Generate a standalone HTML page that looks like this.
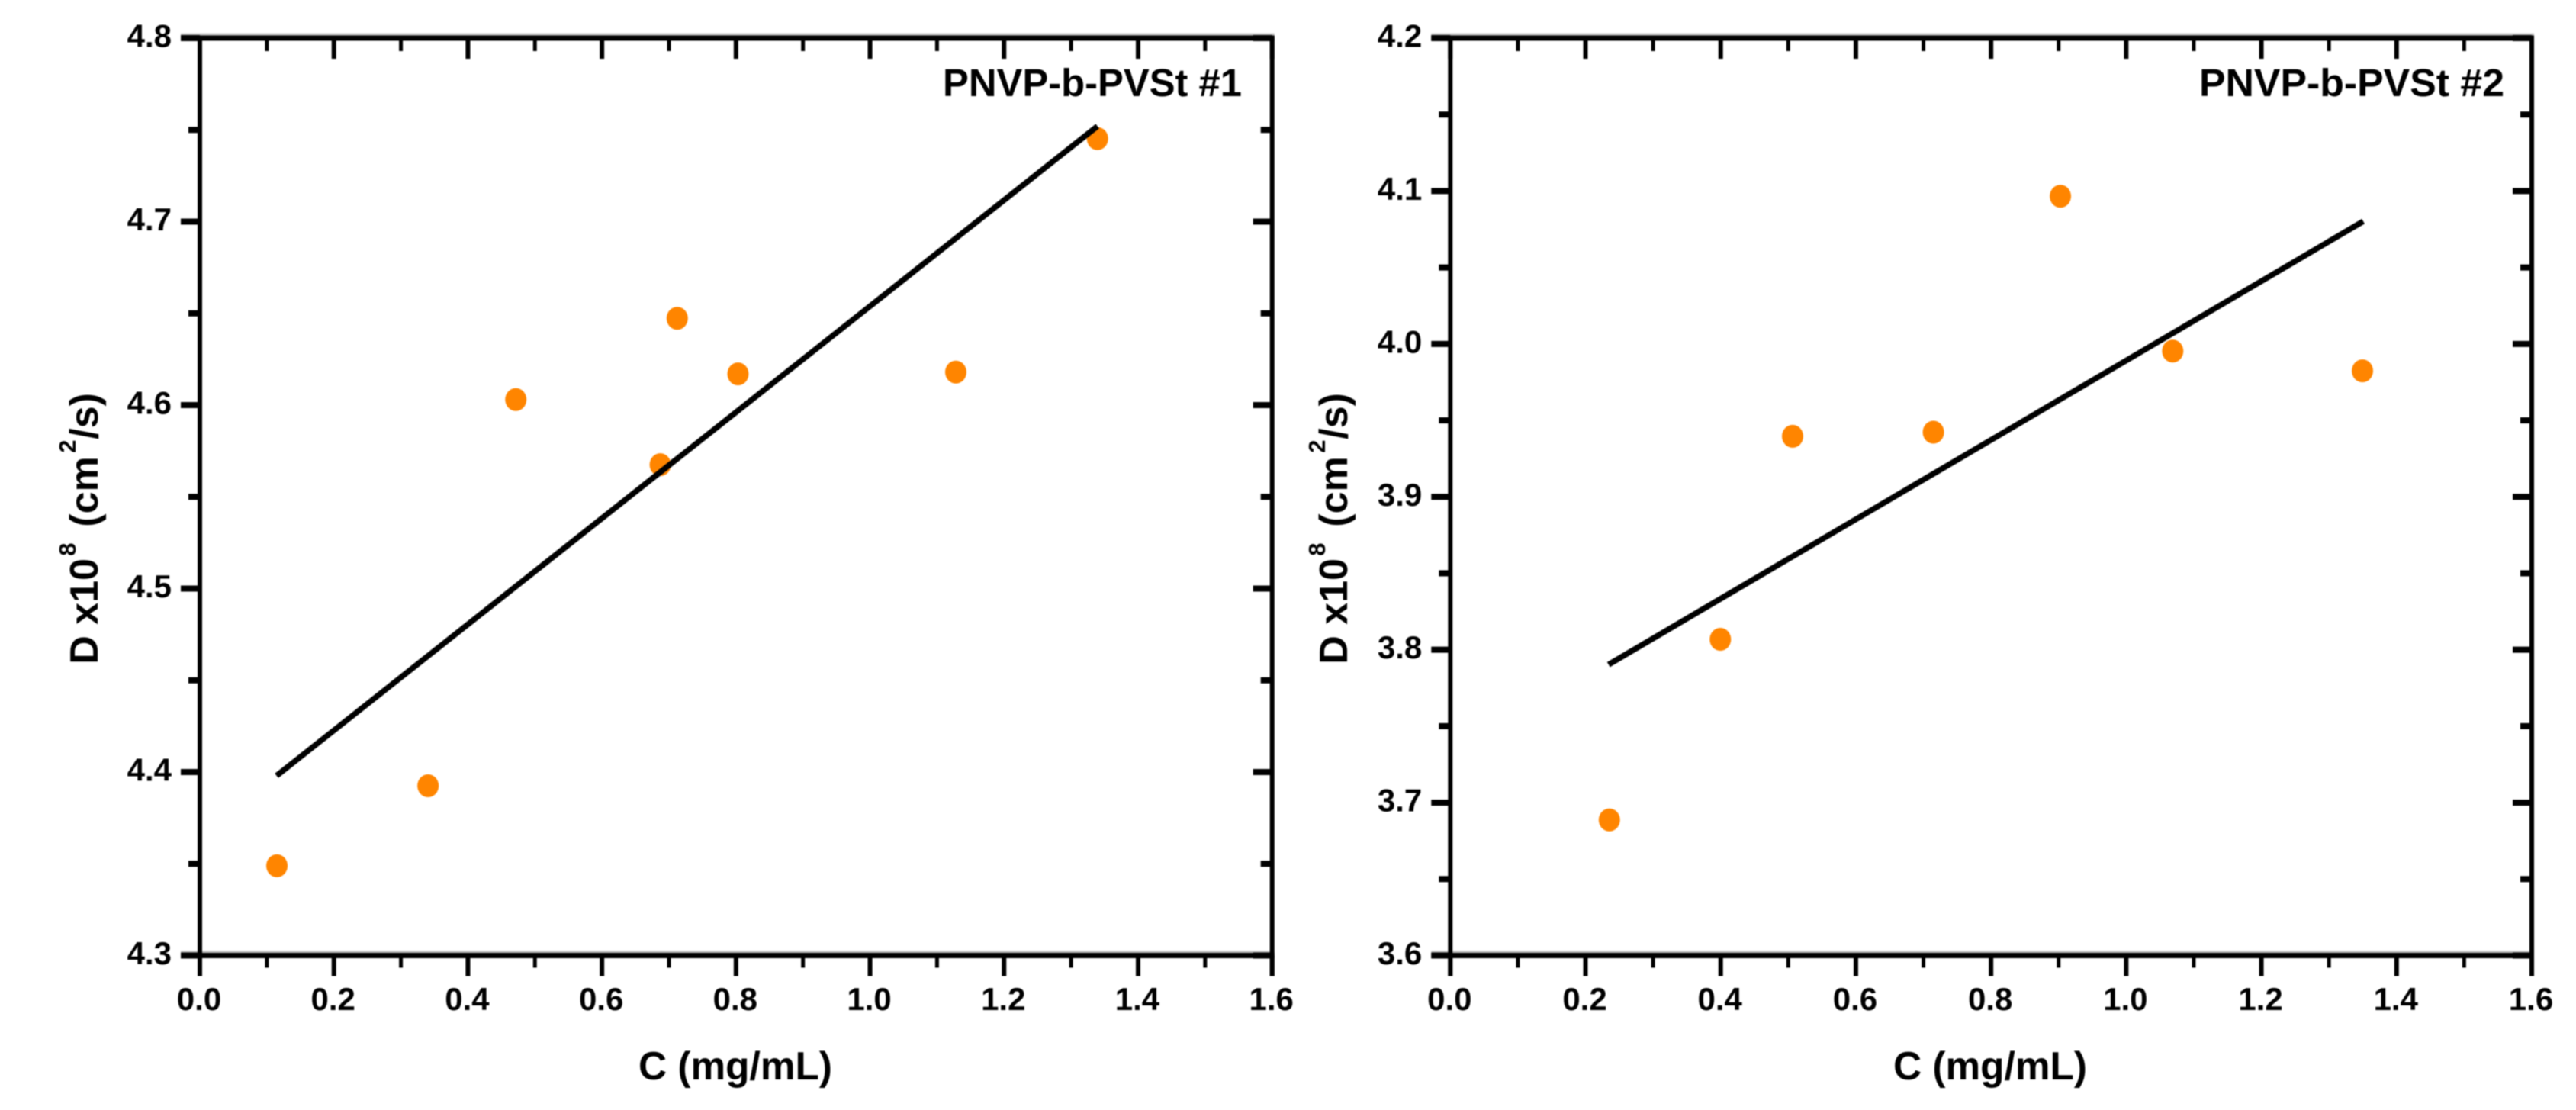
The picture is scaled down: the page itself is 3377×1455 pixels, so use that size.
<!DOCTYPE html>
<html lang="en">
<head>
<meta charset="utf-8">
<title>Diffusion coefficient vs concentration</title>
<style>
  html, body { margin: 0; padding: 0; background: #fff; }
  body { width: 3377px; height: 1455px; overflow: hidden; }
  svg { display: block; filter: blur(0.9px); }
  text { font-family: "Liberation Sans", Arial, sans-serif; font-weight: 700; fill: #000; }
  .tick-label { font-size: 42px; }
  .axis-title { font-size: 52px; }
  .panel-title { font-size: 51px; }
</style>
</head>
<body>
<svg id="figure" width="3377" height="1455" viewBox="0 0 3377 1455" xmlns="http://www.w3.org/2000/svg">
  <rect x="0" y="0" width="3377" height="1455" fill="#ffffff"/>

  <g id="panel-1"></g>
  <g id="panel-2"></g>

  <text class="panel-title" x="1236" y="126" textLength="392" lengthAdjust="spacingAndGlyphs">PNVP-b-PVSt #1</text>
  <text class="panel-title" x="2883" y="126" textLength="400" lengthAdjust="spacingAndGlyphs">PNVP-b-PVSt #2</text>

  <text class="axis-title" x="837" y="1415" textLength="254" lengthAdjust="spacingAndGlyphs">C (mg/mL)</text>
  <text class="axis-title" x="2482" y="1415" textLength="254" lengthAdjust="spacingAndGlyphs">C (mg/mL)</text>

  <text class="axis-title" transform="translate(128,870.7) rotate(-90)"><tspan x="0" y="0">D x10</tspan><tspan x="142" y="-29" font-size="31">8</tspan><tspan x="180" y="0">(cm</tspan><tspan x="277" y="-29" font-size="31">2</tspan><tspan x="295" y="0">/s)</tspan></text>
  <text class="axis-title" transform="translate(1766,870.7) rotate(-90)"><tspan x="0" y="0">D x10</tspan><tspan x="142" y="-29" font-size="31">8</tspan><tspan x="180" y="0">(cm</tspan><tspan x="277" y="-29" font-size="31">2</tspan><tspan x="295" y="0">/s)</tspan></text>
</svg>

<script>
// ---- data ----
const xTickValues = [0, 0.2, 0.4, 0.6, 0.8, 1.0, 1.2, 1.4, 1.6];
const xMinorTickValues = [0.1, 0.3, 0.5, 0.7, 0.9, 1.1, 1.3, 1.5];
const xTickLabels = ['0.0', '0.2', '0.4', '0.6', '0.8', '1.0', '1.2', '1.4', '1.6'];

const panel1YTickValues = [4.3, 4.4, 4.5, 4.6, 4.7, 4.8];
const panel1YMinorTickValues = [4.35, 4.45, 4.55, 4.65, 4.75];
const panel1YTickLabels = ['4.3', '4.4', '4.5', '4.6', '4.7', '4.8'];
const panel1PointsX = [0.115, 0.3405, 0.4715, 0.687, 0.7123, 0.803, 1.128, 1.3394];
const panel1PointsY = [4.3489, 4.3925, 4.603, 4.5675, 4.6473, 4.617, 4.618, 4.7452];
const panel1FitX = [0.1145, 1.3394];
const panel1FitY = [4.398, 4.752];

const panel2YTickValues = [3.6, 3.7, 3.8, 3.9, 4.0, 4.1, 4.2];
const panel2YMinorTickValues = [3.65, 3.75, 3.85, 3.95, 4.05, 4.15];
const panel2YTickLabels = ['3.6', '3.7', '3.8', '3.9', '4.0', '4.1', '4.2'];
const panel2PointsX = [0.2353, 0.3995, 0.5064, 0.7147, 0.9026, 1.0688, 1.3495];
const panel2PointsY = [3.6887, 3.8068, 3.9396, 3.9423, 4.0966, 3.9953, 3.9824];
const panel2FitX = [0.2341, 1.3507];
const panel2FitY = [3.7903, 4.0802];

const SVG_NS = 'http://www.w3.org/2000/svg';

function make(parent, tag, attrs) {
  const el = document.createElementNS(SVG_NS, tag);
  Object.keys(attrs).forEach(function (k) { el.setAttribute(k, attrs[k]); });
  parent.appendChild(el);
  return el;
}

function drawLine(parent, name, x1, y1, x2, y2, width, color) {
  const el = make(parent, 'line', { x1: x1, y1: y1, x2: x2, y2: y2, stroke: color, 'stroke-width': width });
  
  
  return el;
}

function drawPanel(cfg) {
  const g = document.getElementById(cfg.id);
  const xAt = function (v) { return cfg.left + (v - cfg.xMin) / (cfg.xMax - cfg.xMin) * (cfg.right - cfg.left); };
  const yAt = function (v) { return cfg.bottom - (v - cfg.yMin) / (cfg.yMax - cfg.yMin) * (cfg.bottom - cfg.top); };
  const p = cfg.prefix;

  // soft grey fringes of the original frame
  drawLine(g, p + '-top-frame-shadow', cfg.left - 25, cfg.top - 5, cfg.right + 3, cfg.top - 5, 3, '#c4c4c4');
  drawLine(g, p + '-bottom-frame-shadow', cfg.left - 25, cfg.bottom - 5, cfg.right + 3, cfg.bottom - 5, 3, '#c4c4c4');

  // frame
  drawLine(g, p + '-top-axis', cfg.left - 25, cfg.top, cfg.right + 3, cfg.top, 7, '#000');
  drawLine(g, p + '-bottom-axis', cfg.left - 25, cfg.bottom, cfg.right + 3, cfg.bottom, 7, '#000');
  drawLine(g, p + '-left-axis', cfg.left, cfg.top - 3, cfg.left, cfg.bottom + 27, 6, '#000');
  drawLine(g, p + '-right-axis', cfg.right, cfg.top - 3, cfg.right, cfg.bottom + 27, 6, '#000');

  // x ticks: outward on bottom, inward on top
  cfg.xTicks.forEach(function (v, i) {
    const x = xAt(v);
    drawLine(g, p + '-x-major-tick-bottom', x, cfg.bottom, x, cfg.bottom + 27, 6, '#000');
    drawLine(g, p + '-x-major-tick-top', x, cfg.top, x, cfg.top + 27, 6, '#000');
    const t = make(g, 'text', { x: x - 1, y: 1324, 'text-anchor': 'middle', 'class': 'tick-label' });
    
    
    t.textContent = cfg.xLabels[i];
  });
  cfg.xMinor.forEach(function (v) {
    const x = xAt(v);
    drawLine(g, p + '-x-minor-tick-bottom', x, cfg.bottom, x, cfg.bottom + 16, 5, '#000');
    drawLine(g, p + '-x-minor-tick-top', x, cfg.top, x, cfg.top + 17, 5, '#000');
  });

  // y ticks: outward on left, inward on right
  cfg.yTicks.forEach(function (v, i) {
    const y = yAt(v);
    drawLine(g, p + '-y-major-tick-left', cfg.left - 25, y, cfg.left, y, 8, '#000');
    drawLine(g, p + '-y-major-tick-right', cfg.right - 25, y, cfg.right, y, 8, '#000');
    const t = make(g, 'text', { x: cfg.left - 37, y: y + 11.5, 'text-anchor': 'end', 'class': 'tick-label' });
    
    
    t.textContent = cfg.yLabels[i];
  });
  cfg.yMinor.forEach(function (v) {
    const y = yAt(v);
    drawLine(g, p + '-y-minor-tick-left', cfg.left - 15, y, cfg.left, y, 8, '#000');
    drawLine(g, p + '-y-minor-tick-right', cfg.right - 15, y, cfg.right, y, 8, '#000');
  });

  // data points
  cfg.pointsX.forEach(function (v, i) {
    const c = make(g, 'ellipse', { cx: xAt(v), cy: yAt(cfg.pointsY[i]), rx: 14, ry: 15, fill: '#ff8500' });
    
    
  });

  // linear fit
  const fit = make(g, 'line', {
    x1: xAt(cfg.fitX[0]), y1: yAt(cfg.fitY[0]),
    x2: xAt(cfg.fitX[1]), y2: yAt(cfg.fitY[1]),
    stroke: '#000', 'stroke-width': 7.5
  });
  
  
}

drawPanel({
  id: 'panel-1', prefix: 'panel-1',
  left: 262, right: 1667.7, top: 50, bottom: 1252.5,
  xMin: 0, xMax: 1.6, yMin: 4.3, yMax: 4.8,
  xTicks: xTickValues, xMinor: xMinorTickValues, xLabels: xTickLabels,
  yTicks: panel1YTickValues, yMinor: panel1YMinorTickValues, yLabels: panel1YTickLabels,
  pointsX: panel1PointsX, pointsY: panel1PointsY, fitX: panel1FitX, fitY: panel1FitY
});

drawPanel({
  id: 'panel-2', prefix: 'panel-2',
  left: 1901.3, right: 3319, top: 50, bottom: 1252.5,
  xMin: 0, xMax: 1.6, yMin: 3.6, yMax: 4.2,
  xTicks: xTickValues, xMinor: xMinorTickValues, xLabels: xTickLabels,
  yTicks: panel2YTickValues, yMinor: panel2YMinorTickValues, yLabels: panel2YTickLabels,
  pointsX: panel2PointsX, pointsY: panel2PointsY, fitX: panel2FitX, fitY: panel2FitY
});
</script>
</body>
</html>
